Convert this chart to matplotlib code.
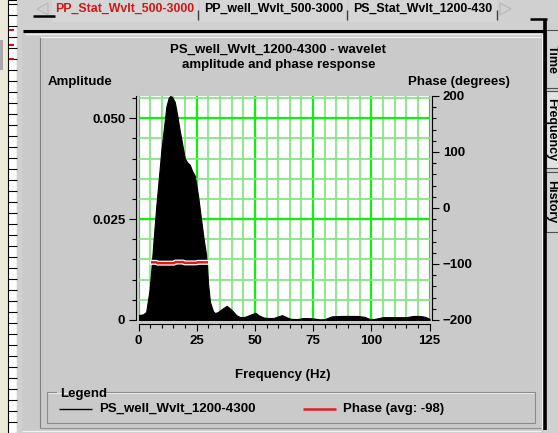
import numpy as np
import matplotlib.pyplot as plt
from matplotlib.patches import Rectangle, Polygon
from matplotlib.ticker import MultipleLocator, FixedLocator

plt.rcParams['font.family'] = ['Liberation Sans', 'DejaVu Sans']
plt.rcParams['font.weight'] = 'bold'

# amplitude spectrum of the wavelet (Hz, amplitude)
freq = [0, 2, 3.3, 4.75, 5.5, 6.5, 7.6, 8.7, 9.8, 11, 12, 13, 13.7, 14.5,
        15.6, 16.7, 17.7, 18.8, 19.9, 21, 22, 23, 24.2, 25.6, 27.1, 28, 29,
        29.5, 30, 30.7, 32, 32.9, 34.2, 36, 37.9, 39, 40.8, 42, 43.7, 45.8,
        48, 50.2, 51.5, 53.8, 56, 58, 60, 61.7, 63.5, 65.3, 68, 71, 75, 78,
        80, 83, 87, 90, 94, 97, 99, 101, 105, 110, 115, 118, 121, 123, 125]
amp = [0.0012, 0.0014, 0.002, 0.0075, 0.0124, 0.02, 0.028, 0.035, 0.042,
       0.048, 0.053, 0.0551, 0.0555, 0.0552, 0.054, 0.0505, 0.047, 0.0435,
       0.040, 0.039, 0.0385, 0.037, 0.0357, 0.0307, 0.024, 0.020, 0.0163,
       0.0124, 0.0083, 0.0045, 0.0022, 0.0017, 0.002, 0.0028, 0.0035, 0.003,
       0.002, 0.0012, 0.0007, 0.0008, 0.0013, 0.0018, 0.0012, 0.0006,
       0.0005, 0.0005, 0.0009, 0.0012, 0.0007, 0.0003, 0.0002, 0.0005,
       0.0004, 0.0001, 0.0002, 0.0009, 0.001, 0.001, 0.001, 0.0008, 0.0003,
       0.0002, 0.0007, 0.0007, 0.0007, 0.001, 0.001, 0.0008, 0.0003]

# phase over the dominant band (Hz, degrees)
phase_freq = [5.9, 7.6, 8.2, 15.3, 15.9, 19.2, 19.8, 24.8, 25.4, 29.3]
phase_deg = [-97, -97, -98.5, -98.5, -96.5, -96.5, -98, -98, -97, -97]

amp_ticks = [0, 0.025, 0.05]
amp_labels = ['0', '0.025', '0.050']
freq_ticks = [0, 25, 50, 75, 100, 125]
phase_ticks = [-200, -100, 0, 100, 200]

tab_names = ['PP_Stat_Wvlt_500-3000', 'PP_well_Wvlt_500-3000', 'PS_Stat_Wvlt_1200-430']
side_tabs = ['Time', 'Frequency', 'History']

W, H = 558, 433
fig = plt.figure(figsize=(W / 100, H / 100), dpi=100)
fig.patch.set_facecolor('#d0d0d0')

# window frame drawn in pixel coordinates
bg = fig.add_axes([0, 0, 1, 1], zorder=0)
bg.set_xlim(0, W)
bg.set_ylim(H, 0)
bg.axis('off')


def box(x0, y0, x1, y1, fc, ec='none', lw=0):
    bg.add_patch(Rectangle((x0, y0), x1 - x0, y1 - y0, facecolor=fc,
                           edgecolor=ec, linewidth=lw))


def line(xs, ys, c, lw=0.72):
    bg.plot(xs, ys, color=c, linewidth=lw, solid_capstyle='butt')


# left strip with ruler
box(0, 0, 8, H, '#ece9d8')
box(0, 40, 3, 70, '#a8a8a8')
box(8, 0, 17, H, 'white', '#000000', 0.8)
for yy in range(4, H, 11):
    line([8, 17], [yy, yy], 'black', 0.8)
for yy in (30, 45, 59):
    line([9, 14], [yy, yy], '#e00000', 1.4)
box(17, 0, 22, H, '#d0d0d0')

# tab row
tab_x = [(52, 198), (200, 347), (349, 497)]
for (x0, x1), name, col in zip(tab_x, tab_names, ['#d01818', 'black', 'black']):
    box(x0, 0, x1, 22, '#d6d6d6')
    line([x1, x1], [10, 20], '#404040', 1.0)
    bg.text((x0 + x1) / 2, 9, name, color=col, fontsize=8.9,
            ha='center', va='center')
bg.add_patch(Polygon([[48, 3], [37, 9], [48, 15]], closed=True, fill=False,
                     edgecolor='#b8b8b8', linewidth=0.8))
bg.add_patch(Polygon([[500, 3], [511, 9], [500, 15]], closed=True, fill=False,
                     edgecolor='#b8b8b8', linewidth=0.8))
line([33, 55], [16, 16], 'black', 1.8)
line([530, 547], [19, 19], 'black', 1.8)

# main panel
box(22, 30, 544, H, '#cacaca')
line([23, 545], [30.5, 30.5], 'black', 2.2)
line([25, 541], [33.5, 33.5], '#eeeeee', 1.0)
line([544.5, 544.5], [19, 430], 'black', 2.6)
line([541.5, 541.5], [34, 429], '#f0f0f0', 0.8)
line([40, 40], [37, 428], '#808080', 0.8)
line([40, 541], [37, 37], '#f4f4f4', 0.8)
line([40, 541], [428, 428], '#909090', 0.8)
line([22, 541], [430.5, 430.5], '#f0f0f0', 1.0)

# vertical tabs on the right
side_y = [(30, 88), (91, 168), (172, 232)]
for (y0, y1), name, fc in zip(side_y, side_tabs, ['#d4d4d4', '#e2e2e2', '#d4d4d4']):
    box(546, y0, W + 2, y1, fc, '#505050', 0.8)
    bg.text(551.5, (y0 + y1) / 2, name, rotation=-90, fontsize=9,
            ha='center', va='center')

# chart titles and axis captions
bg.text(278.5, 50, 'PS_well_Wvlt_1200-4300 - wavelet', fontsize=9.5,
        ha='center', va='center')
bg.text(278.5, 65, 'amplitude and phase response', fontsize=9.5,
        ha='center', va='center')
bg.text(48, 82, 'Amplitude', fontsize=9.5, ha='left', va='center')
bg.text(510, 82, 'Phase (degrees)', fontsize=9.5, ha='right', va='center')
bg.text(282.5, 375, 'Frequency (Hz)', fontsize=9.5, ha='center', va='center')

# legend frame
box(47, 392, 535, 423, 'none', '#8a8a8a', 0.8)
line([48, 534], [393, 393], '#f2f2f2', 0.6)
box(57, 387, 106, 399, '#cacaca')
bg.text(60.5, 394, 'Legend', fontsize=9.5, ha='left', va='center')
line([59, 92], [409, 409], 'black', 1.0)
bg.text(99, 409, 'PS_well_Wvlt_1200-4300', fontsize=9.5, ha='left', va='center')
line([303, 336], [409, 409], '#e02020', 1.8)
bg.text(343, 409, 'Phase (avg: -98)', fontsize=9.5, ha='left', va='center')

# amplitude plot
ax = fig.add_axes([138.5 / W, 1 - 320 / H, 291 / W, 224 / H], zorder=2)
ax.set_facecolor('white')
ax.fill_between(freq, amp, color='black', linewidth=0.8)
ax.set_xlim(0, 125)
ax.set_ylim(0, 0.0555)
ax.xaxis.set_major_locator(FixedLocator(freq_ticks))
ax.xaxis.set_minor_locator(MultipleLocator(5))
ax.yaxis.set_major_locator(FixedLocator(amp_ticks))
ax.set_yticklabels(amp_labels)
ax.yaxis.set_minor_locator(MultipleLocator(0.005))
ax.set_axisbelow(True)
ax.grid(which='minor', color='#84e884', linewidth=1.3)
ax.grid(which='major', color='#10f010', linewidth=1.6)
for s in ('top', 'right'):
    ax.spines[s].set_visible(False)
ax.spines['left'].set_position(('outward', 2))
ax.spines['bottom'].set_position(('outward', 3))
ax.tick_params(which='major', length=5, width=0.8, labelsize=9.5, pad=2.5)
ax.tick_params(which='minor', length=3, width=0.8)

# phase on the right-hand axis
ax2 = ax.twinx()
ax2.set_ylim(-200, 200)
ax2.yaxis.set_major_locator(FixedLocator(phase_ticks))
ax2.yaxis.set_minor_locator(MultipleLocator(20))
ax2.plot(phase_freq, phase_deg, color='white', linewidth=3.6)
ax2.plot(phase_freq, phase_deg, color='#e01818', linewidth=1.8)
for s in ('top', 'left', 'bottom'):
    ax2.spines[s].set_visible(False)
ax2.spines['right'].set_position(('outward', 2))
ax2.tick_params(which='major', length=5, width=0.8, labelsize=9.5, pad=2.5)
ax2.tick_params(which='minor', length=3, width=0.8)

fig.savefig('out.png', dpi=100, facecolor=fig.get_facecolor())
